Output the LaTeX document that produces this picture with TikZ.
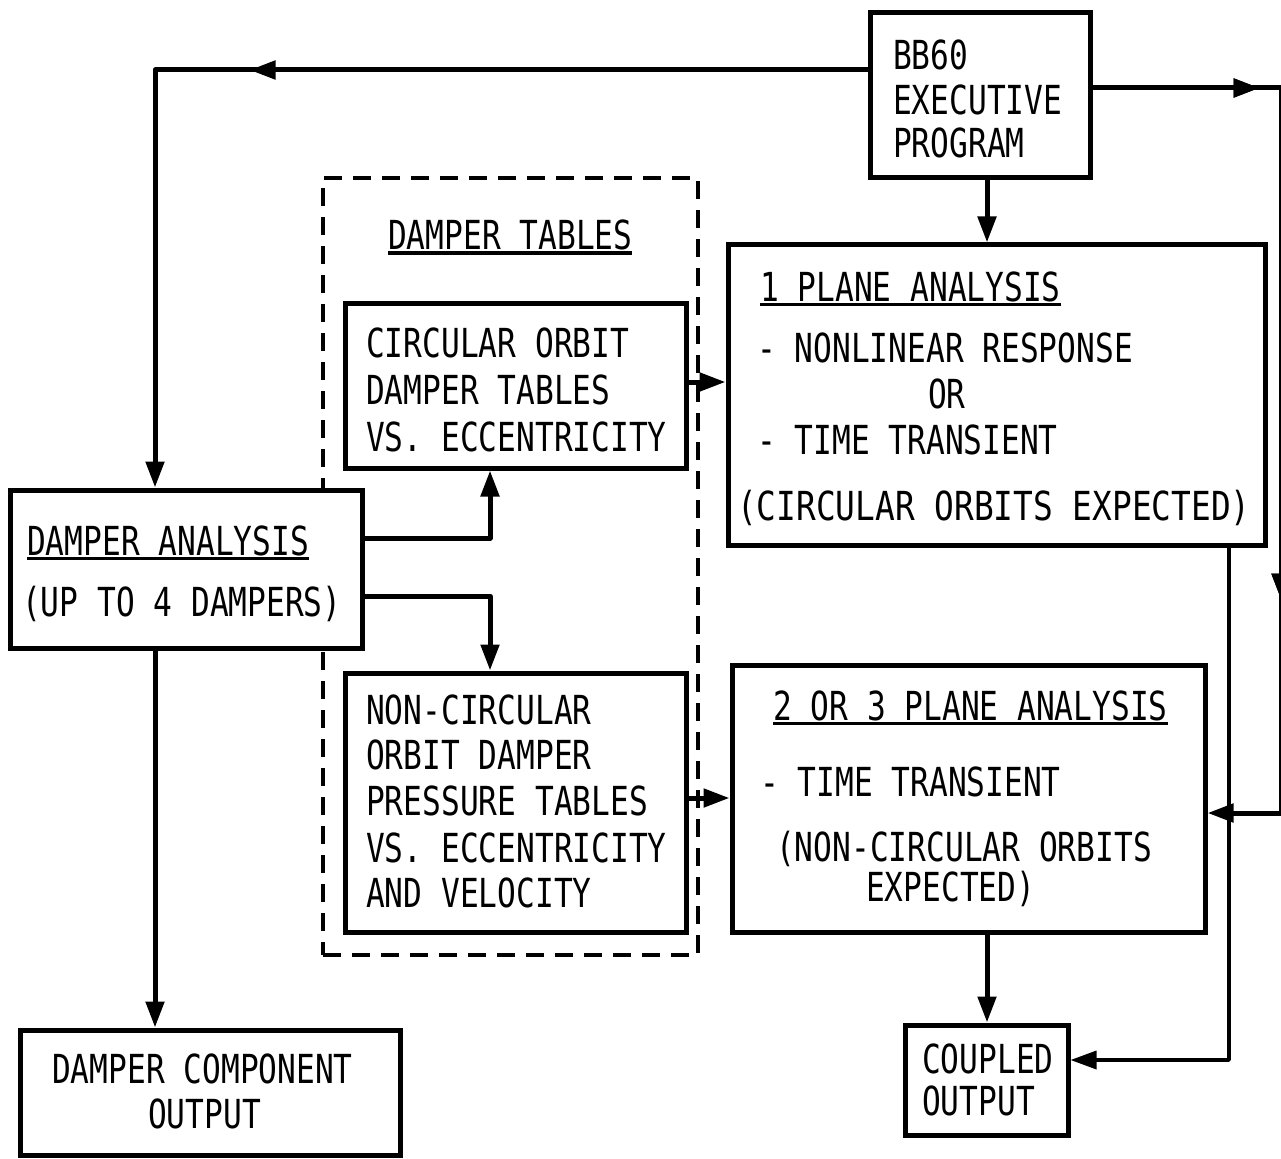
\documentclass[tikz,border=0pt]{standalone}
\usepackage{fontspec}
\newfontfamily\plotfont[FakeStretch=0.78]{DejaVu Sans Mono}
\newfontfamily\plotfontw[FakeStretch=0.82]{DejaVu Sans Mono}
\usetikzlibrary{arrows.meta,decorations.markings}
\newcommand\ulx[1]{\setbox0\hbox{#1}\rlap{\rule[-5pt]{\wd0}{3.5pt}}\box0}
\begin{document}
\begin{tikzpicture}[x=1pt,y=-1pt,
  box/.style={draw,fill=white,line width=5pt,inner sep=0pt},
  dbox/.style={draw,line width=4pt,dash pattern=on 18pt off 11pt,inner sep=0pt},
  txt/.style={anchor=base west,inner sep=0pt,font=\plotfont\fontsize{40pt}{46pt}\selectfont},
  conn/.style={line width=5pt,line cap=round,line join=round},
  tip/.style={-{Triangle[length=26pt,width=18pt]}},
  midtip/.style={postaction={decorate},decoration={markings,mark=at position #1 with {\arrow{Triangle[length=26pt,width=18pt]}}}}
]
\useasboundingbox (0,0) rectangle (1281,1158);
\fill[white] (0,0) rectangle (1281,1158);

% boxes
\node[dbox,minimum width=375pt,minimum height=777pt] (dt) at (510.5,566.5) {};
\node[box,minimum width=220pt,minimum height=165pt] (bb) at (980,95.5) {};
\node[box,minimum width=537pt,minimum height=300pt] (one) at (996.5,395) {};
\node[box,minimum width=341pt,minimum height=165pt] (circ) at (515.5,385.5) {};
\node[box,minimum width=352pt,minimum height=158pt] (da) at (186,569) {};
\node[box,minimum width=341pt,minimum height=259pt] (nc) at (515.5,802.5) {};
\node[box,minimum width=473pt,minimum height=267pt] (two) at (968.5,798.5) {};
\node[box,minimum width=163pt,minimum height=110pt] (co) at (986.5,1080) {};
\node[box,minimum width=380pt,minimum height=125pt] (dco) at (210,1092.5) {};

% texts
\node[txt] (t1) at (893,70) {BB60};
\node[txt] (t2) at (893,115) {EXECUTIVE};
\node[txt] (t3) at (893,158) {PROGRAM};
\node[txt] (t4) at (388,250) {\ulx{DAMPER TABLES}};
\node[txt] (t5) at (760,301) {\ulx{1 PLANE ANALYSIS}};
\node[txt] (t6) at (757,362) {- NONLINEAR RESPONSE};
\node[txt] (t7) at (928,408) {OR};
\node[txt] (t8) at (757,454) {- TIME TRANSIENT};
\node[txt,font=\plotfontw\fontsize{40pt}{46pt}\selectfont] (t9) at (737,520) {(CIRCULAR ORBITS EXPECTED)};
\node[txt] (t10) at (366,357) {CIRCULAR ORBIT};
\node[txt] (t11) at (366,404) {DAMPER TABLES};
\node[txt] (t12) at (366,451) {VS. ECCENTRICITY};
\node[txt] (t13) at (27,555) {\ulx{DAMPER ANALYSIS}};
\node[txt] (t14) at (22,616) {(UP TO 4 DAMPERS)};
\node[txt] (t15) at (366,724) {NON-CIRCULAR};
\node[txt] (t16) at (366,769) {ORBIT DAMPER};
\node[txt] (t17) at (366,815) {PRESSURE TABLES};
\node[txt] (t18) at (366,862) {VS. ECCENTRICITY};
\node[txt] (t19) at (366,907) {AND VELOCITY};
\node[txt] (t20) at (773,720) {\ulx{2 OR 3 PLANE ANALYSIS}};
\node[txt] (t21) at (760,796) {- TIME TRANSIENT};
\node[txt] (t22) at (776,861) {(NON-CIRCULAR ORBITS};
\node[txt] (t23) at (866,901) {EXPECTED)};
\node[txt] (t24) at (922,1073) {COUPLED};
\node[txt] (t25) at (922,1115) {OUTPUT};
\node[txt] (t26) at (52,1083) {DAMPER COMPONENT};
\node[txt] (t27) at (148,1128) {OUTPUT};

% connectors
\draw[conn,tip,midtip=618pt] (bb.west |- 0,70) -| (da.north -| 155,0);
\draw[conn,tip,midtip=167pt,midtip=700pt] (bb.east |- 0,88) -| (1281,813) -- (two.east |- 0,813);
\draw[conn,tip] (bb.south -| 987,0) -- (one.north -| 987,0);
\draw[conn,tip] (circ.east |- 0,382) -- (one.west |- 0,382);
\draw[conn,tip] (da.east |- 0,538) -| (circ.south -| 490,0);
\draw[conn,tip] (da.east |- 0,596) -| (nc.north -| 490,0);
\draw[conn,tip] (nc.east |- 0,798) -- (two.west |- 0,798);
\draw[conn,tip] (two.south -| 987,0) -- (co.north -| 987,0);
\draw[conn,line width=3.5pt,tip] (one.south -| 1229,0) |- (co.east |- 0,1060);
\draw[conn,tip] (da.south -| 155,0) -- (dco.north -| 155,0);
\end{tikzpicture}
\end{document}
